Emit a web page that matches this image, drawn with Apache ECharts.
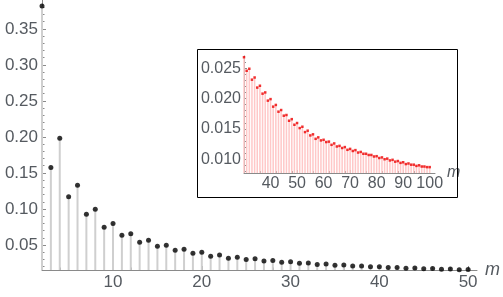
<!DOCTYPE html>
<html><head><meta charset="utf-8">
<script src="https://cdn.jsdelivr.net/npm/echarts@6/dist/echarts.min.js"></script>
<style>html,body{margin:0;padding:0;background:#fff}#c{width:503px;height:297px}</style>
</head><body><div id="c"></div>
<script>
// m = 2 .. 29 (main chart only)
const mStart = 2;
const lowValues = [0.3815,0.1574,0.198,0.117,0.133,0.0926,0.0996,0.0746,0.080,0.0635,0.0657,0.0537,0.0565,0.0482,0.0496,0.0426,0.044,0.0385,0.0400,0.0343,0.0361,0.0315,0.0329,0.0300,0.0310,0.0278,0.0285,0.0262];
// m = 30 .. 100
const highValues = [0.0268,0.02457,0.0249,0.0231,0.02346,0.0218,0.0221,0.0208,0.0210,0.01965,0.0199,0.01866,0.01894,0.01783,0.0181,0.01717,0.01728,0.01634,0.0166,0.01568,0.01596,0.01513,0.01535,0.01447,0.0147,0.01392,0.0141,0.01336,0.0136,0.0131,0.0132,0.01283,0.0129,0.01237,0.0126,0.0121,0.0122,0.01185,0.0120,0.01155,0.0117,0.01136,0.0115,0.0111,0.0112,0.0109,0.0109,0.0107,0.0107,0.01045,0.0105,0.0102,0.0103,0.0100,0.0101,0.0098,0.0099,0.0096,0.0097,0.0094,0.0095,0.0092,0.0093,0.0091,0.0091,0.0089,0.0090,0.0088,0.0088,0.0087,0.0087];
const mainMax = 50;
const mainYLabels = [0.05,0.10,0.15,0.20,0.25,0.30,0.35];
const mainXLabels = [10,20,30,40,50];
const insetYLabels = [0.010,0.015,0.020,0.025];
const insetXLabels = [40,50,60,70,80,90,100];

const allValues = lowValues.concat(highValues);
const allPts = allValues.map((v,i)=>[mStart+i, v]);
const mainPts = allPts.filter(p=>p[0]<=mainMax);
const insetPts = allPts.filter(p=>p[0]>=30);

function range(a,b,s){const r=[];for(let v=a;v<=b+1e-9;v+=s)r.push(+v.toFixed(4));return r;}
const mainMinor = range(0.02,0.38,0.01).filter(v=>!mainYLabels.some(l=>Math.abs(l-v)<1e-6));
const insetMinor = range(0.008,0.026,0.001).filter(v=>!insetYLabels.some(l=>Math.abs(l-v)<1e-6));
const insetXMinor = range(32,100,2).filter(v=>v%10!==0);
const mainXMinor = range(4,50,2).filter(v=>v%10!==0);

const FONT = 'Liberation Sans';
const LBL = '#555a60';
const AX = '#8a8a8a';

const chart = echarts.init(document.getElementById('c'), null, {renderer:'canvas'});
chart.setOption({
  animation:false,
  textStyle:{fontFamily:FONT},
  grid:[
    {left:42, right:26, top:0, bottom:27},
    {left:244, right:68, top:56, bottom:124}
  ],
  xAxis:[
    {gridIndex:0, type:'value', position:'bottom', min:2, max:51, name:'m', nameLocation:'end', nameGap:8,
     nameTextStyle:{fontStyle:'italic', fontSize:18, color:LBL, verticalAlign:'middle', padding:[0,0,5,0]},
     axisLine:{lineStyle:{color:AX}}, splitLine:{show:false},
     axisTick:{inside:true, length:4, customValues:mainXLabels, lineStyle:{color:AX}},
     axisLabel:{customValues:mainXLabels, fontSize:17, color:LBL, margin:4}},
    {gridIndex:0, type:'value', position:'bottom', min:2, max:51, axisLine:{show:false}, splitLine:{show:false},
     axisTick:{inside:true, length:2.5, customValues:mainXMinor, lineStyle:{color:AX}},
     axisLabel:{show:false}},
    {gridIndex:1, type:'value', position:'bottom', min:30, max:102, name:'m', nameLocation:'end', nameGap:5,
     nameTextStyle:{fontStyle:'italic', fontSize:16, color:LBL, verticalAlign:'middle', padding:[0,0,2,0]},
     axisLine:{lineStyle:{color:AX}}, splitLine:{show:false},
     axisTick:{inside:true, length:3, customValues:insetXLabels, lineStyle:{color:AX}},
     axisLabel:{customValues:insetXLabels, fontSize:16, color:LBL, margin:3}},
    {gridIndex:1, type:'value', position:'bottom', min:30, max:102, axisLine:{show:false}, splitLine:{show:false},
     axisTick:{inside:true, length:2, customValues:insetXMinor, lineStyle:{color:AX}},
     axisLabel:{show:false}}
  ],
  yAxis:[
    {gridIndex:0, type:'value', position:'left', min:0.0153, max:0.39,
     axisLine:{show:true, lineStyle:{color:AX}}, splitLine:{show:false},
     axisTick:{show:true, inside:true, length:4, customValues:mainYLabels, lineStyle:{color:AX}},
     axisLabel:{customValues:mainYLabels, fontSize:17, color:LBL, margin:4, formatter:v=>v.toFixed(2)}},
    {gridIndex:0, type:'value', position:'left', min:0.0153, max:0.39,
     axisLine:{show:false}, splitLine:{show:false},
     axisTick:{show:true, inside:true, length:2.5, customValues:mainMinor, lineStyle:{color:AX}},
     axisLabel:{show:false}},
    {gridIndex:1, type:'value', position:'left', min:0.00773, max:0.027,
     axisLine:{show:true, lineStyle:{color:AX}}, splitLine:{show:false},
     axisTick:{show:true, inside:true, length:3, customValues:insetYLabels, lineStyle:{color:AX}},
     axisLabel:{customValues:insetYLabels, fontSize:16, color:LBL, margin:3, formatter:v=>v.toFixed(3)}},
    {gridIndex:1, type:'value', position:'left', min:0.00773, max:0.027,
     axisLine:{show:false}, splitLine:{show:false},
     axisTick:{show:true, inside:true, length:2, customValues:insetMinor, lineStyle:{color:AX}},
     axisLabel:{show:false}}
  ],
  graphic:[
    {type:'rect', shape:{x:197.5, y:49.5, width:260, height:148}, style:{fill:'none', stroke:'#000', lineWidth:1}, z:100}
  ],
  series:[
    {type:'bar', xAxisIndex:0, yAxisIndex:0, data:mainPts, barWidth:2, itemStyle:{color:'#cfcfcf'}, clip:true, z:1},
    {type:'scatter', xAxisIndex:0, yAxisIndex:0, data:mainPts, symbolSize:5, itemStyle:{color:'#000'}, clip:false, z:3},
    {type:'bar', xAxisIndex:2, yAxisIndex:2, data:insetPts, barWidth:1.5, itemStyle:{color:'#ffc8c8'}, clip:true, z:1},
    {type:'scatter', xAxisIndex:2, yAxisIndex:2, data:insetPts, symbol:'rect', symbolSize:2.5, itemStyle:{color:'#ee0000'}, clip:false, z:3}
  ]
});
</script></body></html>
